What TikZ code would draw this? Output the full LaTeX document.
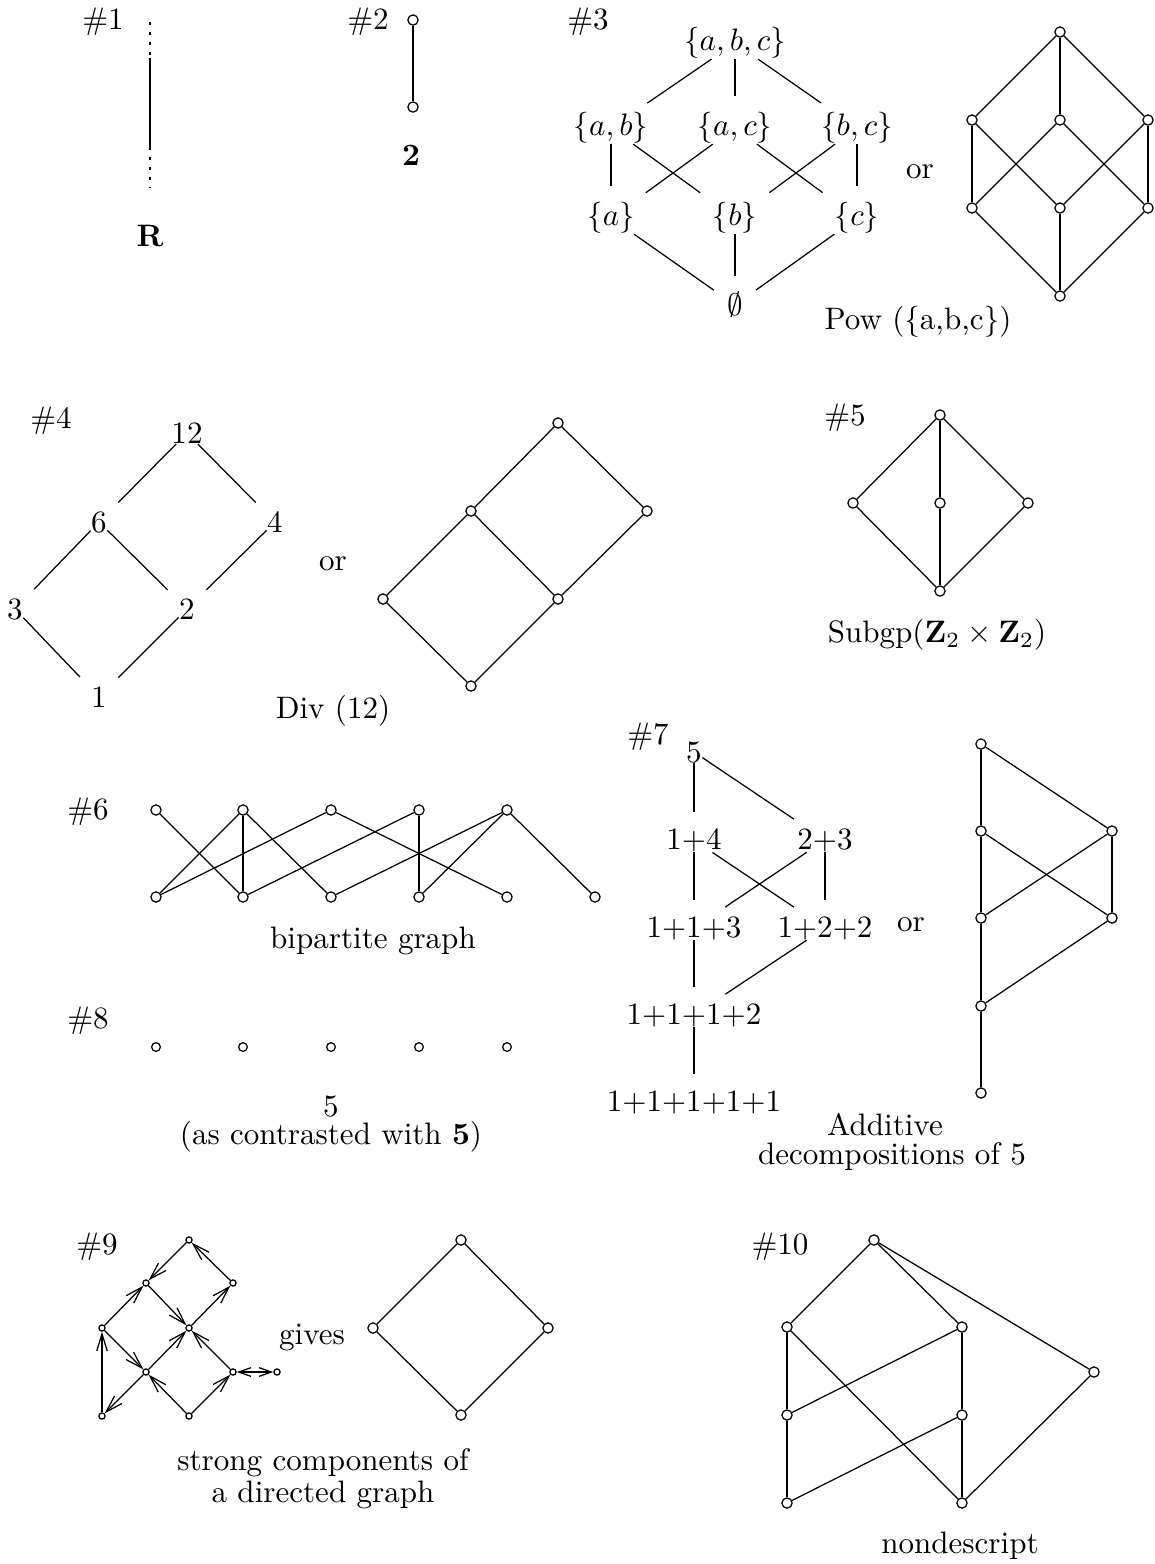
\documentclass[tikz,border=0pt]{standalone}
\usepackage{amsmath,amssymb}
\usetikzlibrary{arrows.meta}

\begin{document}
\begin{tikzpicture}[
  x=0.322pt, y=-0.322pt,
  edge/.style={line width=0.4pt},
  tedge/.style={line width=0.4pt, shorten >=5pt},
  dotline/.style={line width=0.4pt, dash pattern=on 1pt off 2.2pt},
  vtx/.style={circle, draw, line width=0.4pt, fill=white, inner sep=0pt, minimum size=3.3pt},
  midvtx/.style={circle, draw, line width=0.4pt, fill=white, inner sep=0pt, minimum size=2.8pt},
  tinyvtx/.style={circle, draw, line width=0.4pt, fill=white, inner sep=0pt, minimum size=2pt},
  arr/.style={line width=0.4pt, -{Straight Barb[length=5.5pt,width=3.4pt]}},
  darr/.style={line width=0.4pt, {Straight Barb[length=4pt,width=2.8pt]}-{Straight Barb[length=4pt,width=2.8pt]}},
  lbl/.style={inner sep=0pt},
  txt/.style={inner sep=0pt}
]
\useasboundingbox (0,0) rectangle (1154,1564);

% ===================== #1 =====================
\node[txt] (h1) at (103,22) {\#1};
\coordinate (R0) at (150,22);
\coordinate (R1) at (150,58);
\coordinate (R2) at (150,147);
\coordinate (R3) at (150,188);
\draw[dotline] (R0) -- (R1);
\draw[edge] (R1) -- (R2);
\draw[dotline] (R2) -- (R3);
\node[txt] (lR) at (150,236) {$\mathbf{R}$};

% ===================== #2 =====================
\node[txt] (h2) at (368,22) {\#2};
\node[vtx] (T2) at (413,20) {};
\node[vtx] (B2) at (413,107) {};
\draw[edge] (T2) -- (B2);
\node[txt] (l2) at (411,155) {$\mathbf{2}$};

% ===================== #3 =====================
\node[txt] (h3) at (588,22) {\#3};
\node[lbl] (Sabc) at (735,43)  {$\{a,b,c\}$};
\node[lbl] (Sab)  at (611,128) {$\{a,b\}$};
\node[lbl] (Sac)  at (735,128) {$\{a,c\}$};
\node[lbl] (Sbc)  at (857,128) {$\{b,c\}$};
\node[lbl] (Sa)   at (611,218) {$\{a\}$};
\node[lbl] (Sb)   at (735,218) {$\{b\}$};
\node[lbl] (Sc)   at (857,218) {$\{c\}$};
\node[lbl] (S0)   at (735,305) {$\emptyset$};
\draw[tedge] (Sabc) -- (Sab);
\draw[tedge] (Sabc) -- (Sac);
\draw[tedge] (Sabc) -- (Sbc);
\draw[tedge] (Sab) -- (Sa);
\draw[tedge] (Sab) -- (Sb);
\draw[tedge] (Sac) -- (Sa);
\draw[tedge] (Sac) -- (Sc);
\draw[tedge] (Sbc) -- (Sb);
\draw[tedge] (Sbc) -- (Sc);
\draw[tedge] (Sa) -- (S0);
\draw[tedge] (Sb) -- (S0);
\draw[tedge] (Sc) -- (S0);

\node[txt] (or3) at (920,172) {or};

% cube
\node[vtx] (Q0) at (1060,32)  {};
\node[vtx] (Q1) at (972,120)  {};
\node[vtx] (Q2) at (1060,120) {};
\node[vtx] (Q3) at (1148,120) {};
\node[vtx] (Q4) at (972,208)  {};
\node[vtx] (Q5) at (1060,208) {};
\node[vtx] (Q6) at (1148,208) {};
\node[vtx] (Q7) at (1060,296) {};
\draw[edge] (Q0) -- (Q1);
\draw[edge] (Q0) -- (Q2);
\draw[edge] (Q0) -- (Q3);
\draw[edge] (Q1) -- (Q4);
\draw[edge] (Q1) -- (Q5);
\draw[edge] (Q2) -- (Q4);
\draw[edge] (Q2) -- (Q6);
\draw[edge] (Q3) -- (Q5);
\draw[edge] (Q3) -- (Q6);
\draw[edge] (Q4) -- (Q7);
\draw[edge] (Q5) -- (Q7);
\draw[edge] (Q6) -- (Q7);

\node[txt] (pow) at (918,322) {Pow (\{a,b,c\})};

% ===================== #4 =====================
\node[txt] (h4) at (51,421) {\#4};
\node[lbl] (D12) at (187,433) {12};
\node[lbl] (D6)  at (99,522)  {6};
\node[lbl] (D4)  at (275,522) {4};
\node[lbl] (D3)  at (15,609)  {3};
\node[lbl] (D2)  at (187,609) {2};
\node[lbl] (D1)  at (99,697)  {1};
\draw[tedge] (D12) -- (D6);
\draw[tedge] (D12) -- (D4);
\draw[tedge] (D6) -- (D3);
\draw[tedge] (D6) -- (D2);
\draw[tedge] (D4) -- (D2);
\draw[tedge] (D3) -- (D1);
\draw[tedge] (D2) -- (D1);

\node[txt] (or4) at (333,564) {or};

\node[vtx] (P1) at (558,423) {};
\node[vtx] (P2) at (471,511) {};
\node[vtx] (P3) at (647,511) {};
\node[vtx] (P4) at (383,599) {};
\node[vtx] (P5) at (558,599) {};
\node[vtx] (P6) at (471,686) {};
\draw[edge] (P1) -- (P2);
\draw[edge] (P1) -- (P3);
\draw[edge] (P2) -- (P4);
\draw[edge] (P2) -- (P5);
\draw[edge] (P3) -- (P5);
\draw[edge] (P4) -- (P6);
\draw[edge] (P5) -- (P6);

\node[txt] (div) at (333,711) {Div (12)};

% ===================== #5 =====================
\node[txt] (h5) at (845,418) {\#5};
\node[vtx] (G1) at (940,415) {};
\node[vtx] (G2) at (853,503) {};
\node[vtx] (G3) at (940,503) {};
\node[vtx] (G4) at (1028,503) {};
\node[vtx] (G5) at (940,591) {};
\draw[edge] (G1) -- (G2);
\draw[edge] (G1) -- (G3);
\draw[edge] (G1) -- (G4);
\draw[edge] (G2) -- (G5);
\draw[edge] (G3) -- (G5);
\draw[edge] (G4) -- (G5);
\node[txt] (subgp) at (937,635) {Subgp($\mathbf{Z}_2\times\mathbf{Z}_2$)};

% ===================== #6 =====================
\node[txt] (h6) at (88,812) {\#6};
\foreach \i/\x in {1/156,2/243,3/331,4/419,5/507}
  \node[vtx] (BT\i) at (\x,810) {};
\foreach \i/\x in {1/156,2/243,3/331,4/419,5/507,6/595}
  \node[vtx] (BB\i) at (\x,897) {};
\foreach \a/\b in {1/2,2/1,2/2,2/3,3/1,3/5,4/2,4/4,5/3,5/4,5/6}
  \draw[edge] (BT\a) -- (BB\b);
\node[txt] (bip) at (373,941) {bipartite graph};

% ===================== #8 =====================
\node[txt] (h8) at (88,1021) {\#8};
\foreach \i/\x in {1/156,2/243,3/331,4/419,5/507}
  \node[midvtx] (A\i) at (\x,1047) {};
\node[txt] (five) at (331,1106) {5};
\node[txt] (contr) at (331,1137) {(as contrasted with $\mathbf{5}$)};

% ===================== #7 =====================
\node[txt] (h7) at (648,737) {\#7};
\node[lbl] (K5)     at (694,752)  {5};
\node[lbl] (K14)    at (694,840)  {1+4};
\node[lbl] (K23)    at (825,840)  {2+3};
\node[lbl] (K113)   at (694,928)  {1+1+3};
\node[lbl] (K122)   at (825,928)  {1+2+2};
\node[lbl] (K1112)  at (694,1015) {1+1+1+2};
\node[lbl] (K11111) at (694,1102) {1+1+1+1+1};
\draw[tedge] (K5) -- (K14);
\draw[tedge] (K5) -- (K23);
\draw[tedge] (K14) -- (K113);
\draw[tedge] (K14) -- (K122);
\draw[tedge] (K23) -- (K113);
\draw[tedge] (K23) -- (K122);
\draw[tedge] (K113) -- (K1112);
\draw[tedge] (K122) -- (K1112);
\draw[tedge] (K1112) -- (K11111);

\node[txt] (or7) at (911,925) {or};

\node[vtx] (U1) at (981,744)  {};
\node[vtx] (U2) at (981,831)  {};
\node[vtx] (U3) at (1112,831) {};
\node[vtx] (U4) at (981,918)  {};
\node[vtx] (U5) at (1112,918) {};
\node[vtx] (U6) at (981,1006) {};
\node[vtx] (U7) at (981,1093) {};
\draw[edge] (U1) -- (U2);
\draw[edge] (U1) -- (U3);
\draw[edge] (U2) -- (U4);
\draw[edge] (U2) -- (U5);
\draw[edge] (U3) -- (U4);
\draw[edge] (U3) -- (U5);
\draw[edge] (U4) -- (U6);
\draw[edge] (U5) -- (U6);
\draw[edge] (U6) -- (U7);

\node[txt] (add1) at (885,1125) {Additive};
\node[txt] (add2) at (892,1157) {decompositions of 5};

% ===================== #9 =====================
\node[txt] (h9) at (97,1247) {\#9};
\node[tinyvtx] (W1)  at (189,1240) {};
\node[tinyvtx] (W2)  at (146,1283) {};
\node[tinyvtx] (W3)  at (233,1283) {};
\node[tinyvtx] (W4)  at (102,1328) {};
\node[tinyvtx] (W5)  at (189,1328) {};
\node[tinyvtx] (W6)  at (146,1372) {};
\node[tinyvtx] (W7)  at (233,1372) {};
\node[tinyvtx] (W8)  at (277,1372) {};
\node[tinyvtx] (W9)  at (102,1416) {};
\node[tinyvtx] (W10) at (189,1416) {};
\draw[arr] (W1) -- (W2);
\draw[arr] (W3) -- (W1);
\draw[arr] (W2) -- (W5);
\draw[arr] (W4) -- (W2);
\draw[arr] (W5) -- (W3);
\draw[arr] (W4) -- (W6);
\draw[arr] (W6) -- (W5);
\draw[arr] (W7) -- (W5);
\draw[arr] (W6) -- (W9);
\draw[arr] (W9) -- (W4);
\draw[arr] (W10) -- (W6);
\draw[arr] (W10) -- (W7);
\draw[darr] (W7) -- (W8);

\node[txt] (gives) at (312,1337) {gives};

\node[vtx] (C1) at (461,1240) {};
\node[vtx] (C2) at (373,1328) {};
\node[vtx] (C3) at (548,1328) {};
\node[vtx] (C4) at (461,1415) {};
\draw[edge] (C1) -- (C2);
\draw[edge] (C1) -- (C3);
\draw[edge] (C2) -- (C4);
\draw[edge] (C3) -- (C4);

\node[txt] (strong1) at (323,1463) {strong components of};
\node[txt] (strong2) at (323,1495) {a directed graph};

% ===================== #10 =====================
\node[txt] (h10) at (780,1247) {\#10};
\node[vtx] (V1) at (874,1240) {};
\node[vtx] (V2) at (787,1327) {};
\node[vtx] (V3) at (962,1327) {};
\node[vtx] (V4) at (1094,1372) {};
\node[vtx] (V5) at (787,1415) {};
\node[vtx] (V6) at (962,1415) {};
\node[vtx] (V7) at (787,1503) {};
\node[vtx] (V8) at (962,1503) {};
\draw[edge] (V1) -- (V2);
\draw[edge] (V1) -- (V3);
\draw[edge] (V1) -- (V4);
\draw[edge] (V2) -- (V5);
\draw[edge] (V2) -- (V8);
\draw[edge] (V3) -- (V5);
\draw[edge] (V3) -- (V6);
\draw[edge] (V5) -- (V7);
\draw[edge] (V6) -- (V7);
\draw[edge] (V6) -- (V8);
\draw[edge] (V4) -- (V8);

\node[txt] (nond) at (960,1546) {nondescript};

\end{tikzpicture}
\end{document}
